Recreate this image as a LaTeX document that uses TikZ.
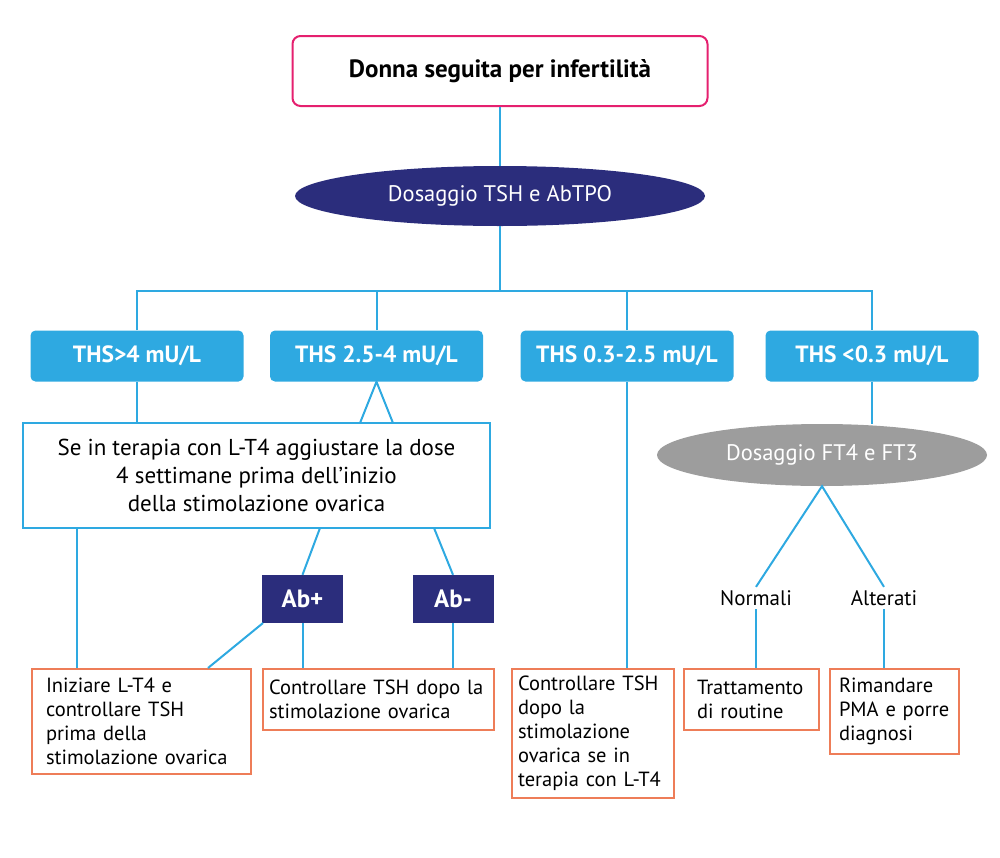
\documentclass[tikz,border=0pt]{standalone}
\usepackage{fontspec}
\setmainfont{PT Sans}
\usetikzlibrary{shapes.geometric}

\definecolor{rosa}{HTML}{E5206F}
\definecolor{celeste}{HTML}{2EA9E1}
\definecolor{blunotte}{HTML}{2B2D7C}
\definecolor{grigio}{HTML}{9D9D9D}
\definecolor{arancio}{HTML}{EE7D58}

\tikzset{
  link/.style={draw=celeste, line width=2pt},
  topbox/.style={draw=rosa, line width=2pt, rounded corners=8pt,
    minimum width=415pt, minimum height=70pt,
    font=\fontsize{25}{30}\selectfont\bfseries},
  navyell/.style={ellipse, fill=blunotte, text=white, inner sep=0pt,
    minimum width=410pt, minimum height=60pt,
    font=\fontsize{22.5}{27}\selectfont},
  grayell/.style={ellipse, fill=grigio, text=white, inner sep=0pt,
    minimum width=330pt, minimum height=62pt,
    font=\fontsize{22.5}{27}\selectfont},
  rangebox/.style={fill=celeste, text=white, rounded corners=5pt,
    minimum width=213pt, minimum height=51pt,
    font=\fontsize{23.5}{28}\selectfont\bfseries},
  notebox/.style={draw=celeste, line width=1.5pt, align=center,
    minimum width=467pt, minimum height=105pt,
    font=\fontsize{23}{28}\selectfont},
  abbox/.style={fill=blunotte, text=white,
    minimum width=81pt, minimum height=48pt,
    font=\fontsize{25}{30}\selectfont\bfseries},
  esito/.style={font=\fontsize{21}{25}\selectfont},
  outbox/.style n args={2}{draw=arancio, line width=2pt, anchor=north west,
    align=left, text width=#1, minimum height=#2, inner ysep=0pt,
    font=\fontsize{20.5}{24}\selectfont},
}

\begin{document}
\begin{tikzpicture}[x=1pt, y=-1pt]
\useasboundingbox (0,0) rectangle (1000,857);

% top of the chart
\node[topbox] (donna) at (500,71) {Donna seguita per infertilità};
\node[navyell] (tsh) at (500,196) {Dosaggio TSH e AbTPO};

% TSH ranges
\node[rangebox] (r1) at (137,356) {THS>4 mU/L};
\node[rangebox] (r2) at (376.5,356) {THS 2.5-4 mU/L};
\node[rangebox] (r3) at (627,356) {THS 0.3-2.5 mU/L};
\node[rangebox] (r4) at (872,356) {THS <0.3 mU/L};

% branch points of the tree
\coordinate (bus) at (500,291);
\coordinate (k1) at (360,423);
\coordinate (k2) at (393,423);
\coordinate (k3) at (77,528);
\coordinate (k4) at (320,528);
\coordinate (k5) at (434,528);
\coordinate (k6) at (208,668);
\coordinate (k7) at (263,623);

% left branch
\node[notebox] (adj) at (256.5,475.5)
  {Se in terapia con L-T4 aggiustare la dose\\
   4 settimane prima dell’inizio\\
   della stimolazione ovarica};
\node[abbox] (abp) at (302.5,599) {Ab+};
\node[abbox] (abn) at (453,599) {Ab-};

% right branch
\node[grayell] (ft) at (822,455) {Dosaggio FT4 e FT3};
\node[esito] (norm) at (756,598) {Normali};
\node[esito] (alt) at (884,598) {Alterati};

% final boxes
\node[outbox={191pt}{105pt}, inner xsep=14pt] (o1) at (31,668)
  {Iniziare L-T4 e\\ controllare TSH\\ prima della\\ stimolazione ovarica};
\node[outbox={219pt}{61pt}, inner xsep=6pt] (o2) at (262,668)
  {Controllare TSH dopo la\\ stimolazione ovarica};
\node[outbox={150pt}{129pt}, inner xsep=6pt] (o3) at (511,668)
  {Controllare TSH\\ dopo la\\ stimolazione\\ ovarica se in\\ \mbox{terapia con L-T4}};
\node[outbox={109pt}{61pt}, inner xsep=13pt] (o4) at (683,668)
  {Trattamento\\ di routine};
\node[outbox={111pt}{85pt}, inner xsep=9pt] (o5) at (829,668)
  {Rimandare\\ PMA e porre\\ diagnosi};

% connectors
\draw[link] (donna.south) -- (tsh.north);
\draw[link] (tsh.south) -- (bus);
\draw[link] (r1.north) |- (bus) -| (r4.north);
\draw[link] (r2.north) -- (r2.north |- bus);
\draw[link] (r3.north) -- (r3.north |- bus);
\draw[link] (r1.south) -- (r1.south |- adj.north);
\draw[link] (k1) -- (r2.south) -- (k2);
\draw[link] (r3.south) -- (o3.north -| r3.south);
\draw[link] (r4.south) -- (r4.south |- ft.north);
\draw[link] (k3) -- (k3 |- o1.north);
\draw[link] (k4) -- (abp.north);
\draw[link] (k5) -- (abn.north);
\draw[link] (k7) -- (k6);
\draw[link] (abp.south) -- (abp.south |- o2.north);
\draw[link] (abn.south) -- (abn.south |- o2.north);
\draw[link] (norm.north) -- (ft.south) -- (alt.north);
\draw[link] (norm.south) -- (norm.south |- o4.north);
\draw[link] (alt.south) -- (alt.south |- o5.north);

\end{tikzpicture}
\end{document}
